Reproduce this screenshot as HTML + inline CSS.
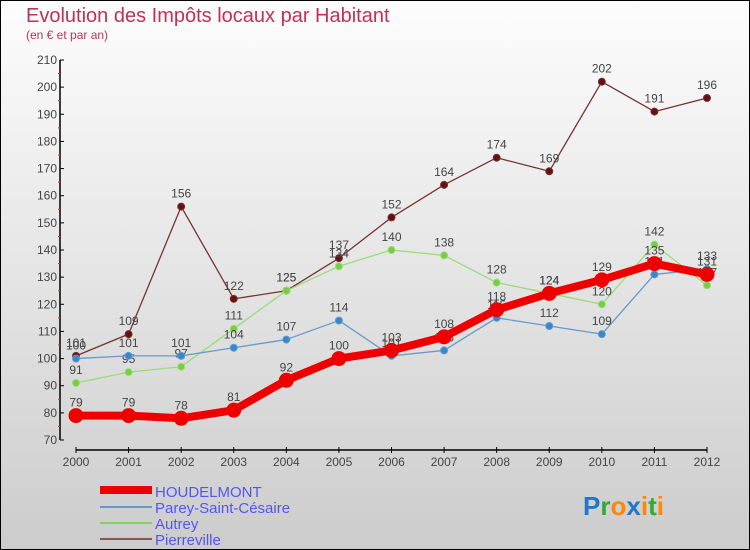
<!DOCTYPE html>
<html><head><meta charset="utf-8"><style>
body{margin:0;width:750px;height:550px;overflow:hidden}
svg{display:block;font-family:"Liberation Sans",sans-serif}
</style></head><body>
<svg width="750" height="550">
<defs><linearGradient id="bg" x1="0" y1="0" x2="0" y2="1"><stop offset="0" stop-color="#fdfdfd"/><stop offset="1" stop-color="#cccccc"/></linearGradient></defs>
<rect x="0.5" y="0.5" width="749" height="549" fill="url(#bg)" stroke="#000"/>
<text x="26" y="22" font-size="20" fill="#c0305a">Evolution des Impôts locaux par Habitant</text>
<text x="26" y="39" font-size="12" fill="#c0305a">(en € et par an)</text>
<g id="axes"></g><g id="series"></g>
<g>
<rect x="100" y="486" width="52" height="8" fill="#ee0000"/>
<text x="155" y="497" font-size="15" fill="#5555ee">HOUDELMONT</text>
<rect x="100" y="506" width="52" height="2" fill="#6699cc"/>
<text x="155" y="513" font-size="15" fill="#5555ee">Parey-Saint-Césaire</text>
<rect x="100" y="522" width="52" height="2" fill="#88cc66"/>
<text x="155" y="529" font-size="15" fill="#5555ee">Autrey</text>
<rect x="100" y="538" width="52" height="2" fill="#885555"/>
<text x="155" y="545" font-size="15" fill="#5555ee">Pierreville</text>
</g>
<text x="583" y="515" font-size="26" font-weight="bold"><tspan fill="#2277cc">P</tspan><tspan fill="#33aa33">r</tspan><tspan fill="#ff8800">o</tspan><tspan fill="#2277cc">x</tspan><tspan fill="#ff8800">i</tspan><tspan fill="#33aa33">t</tspan><tspan fill="#ff8800">i</tspan></text>
</svg>
<script>
const years=[2000,2001,2002,2003,2004,2005,2006,2007,2008,2009,2010,2011,2012];
const yTicks=[70,80,90,100,110,120,130,140,150,160,170,180,190,200,210];
const houdelmont=[79,79,78,81,92,100,103,108,118,124,129,135,131];
const parey=[100,101,101,104,107,114,101,103,115,112,109,131,133];
const autrey=[91,95,97,111,125,134,140,138,128,124,120,142,127];
const pierreville=[101,109,156,122,125,137,152,164,174,169,202,191,196];
const NS="http://www.w3.org/2000/svg";
function X(i){return 76+i*(707-76)/12;}
function Y(v){return 440-(v-70)*(380/140);}
function mk(t,a,p){const e=document.createElementNS(NS,t);for(const k in a)e.setAttribute(k,a[k]);p.appendChild(e);return e;}
const ax=document.getElementById('axes');
let e=mk('line',{x1:60,y1:60,x2:60,y2:440,stroke:'#000','stroke-width':1.5},ax);


e=mk('line',{x1:76,y1:450,x2:707,y2:450,stroke:'#000','stroke-width':1.5},ax);


yTicks.forEach(v=>{mk('line',{x1:60,y1:Y(v),x2:64,y2:Y(v),stroke:'#000'},ax);
 if(v<210)mk('line',{x1:58,y1:Y(v+5),x2:60,y2:Y(v+5),stroke:'#e33'},ax);
 const t=mk('text',{x:57,y:Y(v)+4,'font-size':12,fill:'#444','text-anchor':'end'},ax);t.textContent=v;
 
 });
years.forEach((y,i)=>{mk('line',{x1:X(i),y1:447,x2:X(i),y2:453,stroke:'#000'},ax);
 const t=mk('text',{x:X(i),y:466,'font-size':12,fill:'#444','text-anchor':'middle'},ax);t.textContent=y;
 
 });
const sg=document.getElementById('series');
function draw(d,name,color,w,r,dot){
 const g=mk('g',{},sg);
 
 
 mk('polyline',{points:d.map((v,i)=>X(i)+','+Y(v)).join(' '),fill:'none',stroke:color,'stroke-width':w,'stroke-linejoin':'round'},g);
 d.forEach((v,i)=>{const c=mk('circle',{cx:X(i),cy:Y(v),r:r,fill:dot,stroke:color,'stroke-width':1},g);
  
  
  const t=mk('text',{x:X(i),y:Y(v)-9,'font-size':12,fill:'#444','text-anchor':'middle'},g);t.textContent=v;
  
  });
}
draw(pierreville,'pierreville','#773333',1.3,3.5,'#661111');
draw(autrey,'autrey','#99dd77',1.3,3.5,'#77cc44');
draw(parey,'parey','#6699cc',1.3,3.5,'#3388cc');
draw(houdelmont,'houdelmont','#ee0000',8,7,'#ee0000');
</script>
</body></html>
